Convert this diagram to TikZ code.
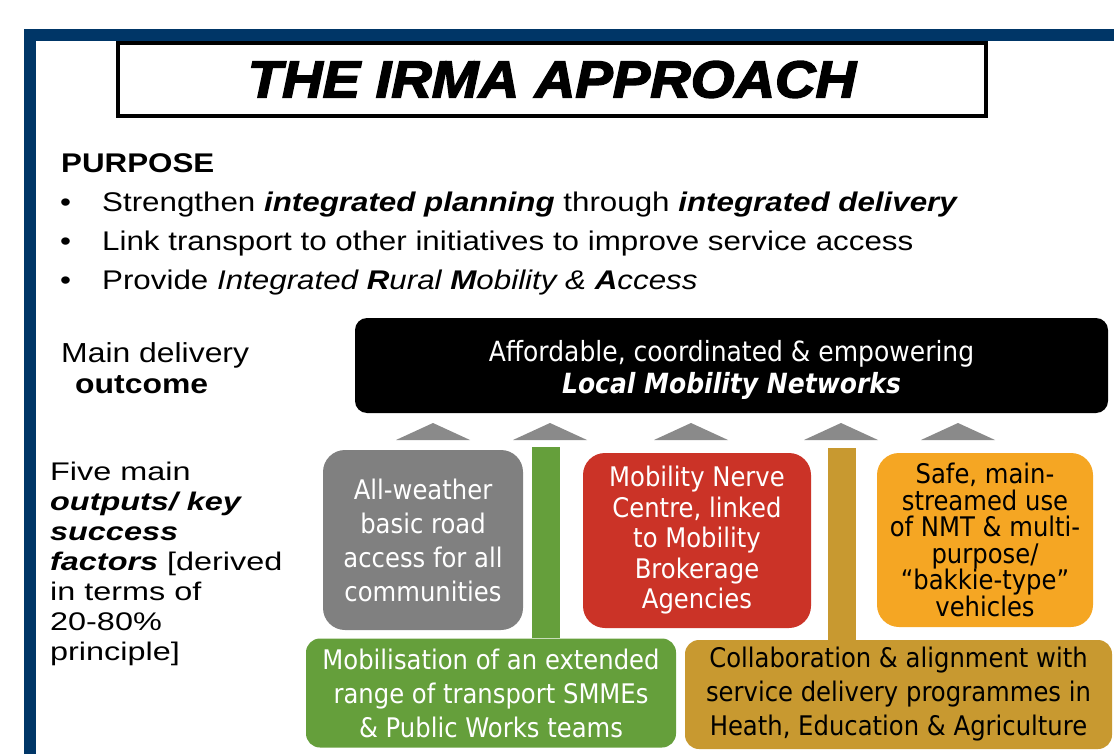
\documentclass[tikz,border=0pt]{standalone}
\usepackage{fontspec}
\setmainfont{Liberation Sans}
\newfontfamily\aimfont[FakeStretch=1.16]{Liberation Sans}
\newfontfamily\outputfont[FakeStretch=1.27]{Liberation Sans}
\newfontfamily\boxfont[FakeStretch=0.9]{DejaVu Sans}
\newfontfamily\titlefont[FakeBold=3, FakeStretch=1.08]{Liberation Sans Bold Italic}
\usetikzlibrary{positioning}
\definecolor{frameblue}{RGB}{0,54,103}
\definecolor{arrowgray}{RGB}{138,138,138}
\definecolor{roadgray}{RGB}{128,128,128}
\definecolor{nervered}{RGB}{203,51,39}
\definecolor{nmtorange}{RGB}{245,166,35}
\definecolor{smmegreen}{RGB}{101,159,59}
\definecolor{servicegold}{RGB}{200,153,48}

\tikzset{
    titlebox/.style={draw=black, line width=4pt, fill=white, inner sep=0pt},
    label/.style={anchor=north west, inner sep=0pt, align=left},
    aim/.style={anchor=base west, inner sep=0pt, font=\aimfont\fontsize{27}{30}\selectfont},
    factor/.style={rounded corners=22pt, inner sep=0pt, align=center, text=white,
        font=\boxfont\fontsize{27}{34}\selectfont},
    widefactor/.style={factor, rounded corners=14pt},
    bar/.style={line width=28pt}
}

\begin{document}
\begin{tikzpicture}[x=1pt, y=-1pt]
    \useasboundingbox (0,0) rectangle (1114,754);
    \draw[frameblue, line width=12pt] (30,754) -- (30,35) -- (1114,35);

    \node[titlebox, minimum width=868pt, minimum height=73pt] (title) at (552,79.5)
        {\titlefont\fontsize{52}{52}\selectfont THE IRMA APPROACH};

    % purpose
    \node[aim] (purpose) at (61,173) {\bfseries PURPOSE};
    \foreach \txt [count=\i] in {
        {Strengthen \textbf{\textit{integrated planning}} through \textbf{\textit{integrated delivery}}},
        {Link transport to other initiatives to improve service access},
        {Provide \textit{Integrated \textbf{R}ural \textbf{M}obility \& \textbf{A}ccess}}}
        \node[aim] (aim\i) at (60,173+39*\i) {\makebox[42pt][l]{\textbullet}\txt};

    % delivery outcome
    \node[label, font=\aimfont\fontsize{27.5}{31}\selectfont] (outcomelabel) at (61,342)
        {Main delivery\\\hspace*{14pt}\textbf{outcome}};
    \node[fill=black, rounded corners=12pt, minimum width=753pt, minimum height=95pt] (outcome) at (731.5,365.5) {};
    \node[align=center, text=white, font=\boxfont\fontsize{27.8}{32}\selectfont, yshift=-4pt] (outcometext) at (outcome.center)
        {Affordable, coordinated \& empowering\\\textbf{\textit{Local Mobility Networks}}};

    \foreach \x in {433,550,691,841,958}
        \fill[arrowgray] (\x-37,440) -- (\x,423) -- (\x+37,440) -- cycle;

    % outputs
    \node[label, font=\outputfont\fontsize{25.5}{30}\selectfont] (outputlabel) at (50,462)
        {Five main\\\textbf{\textit{outputs/ key}}\\\textbf{\textit{success}}\\\textbf{\textit{factors}} [derived\\in terms of\\20-80\%\\principle]};

    \coordinate (smmetop) at (546,447);
    \coordinate (servicetop) at (842,448);
    \node[widefactor, fill=smmegreen, minimum width=370pt, minimum height=109pt] (smme) at (491,693)
        {Mobilisation of an extended\\range of transport SMMEs\\\& Public Works teams};
    \node[widefactor, fill=servicegold, text=black, minimum width=427pt, minimum height=109pt] (service) at (898.5,694.5)
        {Collaboration \& alignment with\\service delivery programmes in\\Heath, Education \& Agriculture};
    \draw[bar, smmegreen] (smme.north -| smmetop) -- (smmetop);
    \draw[bar, servicegold] (service.north -| servicetop) -- (servicetop);

    \node[factor, fill=roadgray, minimum width=200pt, minimum height=180pt] (roads) at (423,540)
        {All-weather\\basic road\\access for all\\communities};
    \node[factor, fill=nervered, minimum width=228pt, minimum height=175pt,
        font=\boxfont\fontsize{27}{30.5}\selectfont] (nerve) at (697,540.5)
        {Mobility Nerve\\Centre, linked\\to Mobility\\Brokerage\\Agencies};
    \node[factor, fill=nmtorange, text=black, minimum width=216pt, minimum height=174pt,
        font=\boxfont\fontsize{27}{26.5}\selectfont] (nmt) at (985,540)
        {Safe, main-\\streamed use\\of NMT \& multi-\\purpose/\\“bakkie-type”\\vehicles};
\end{tikzpicture}
\end{document}
